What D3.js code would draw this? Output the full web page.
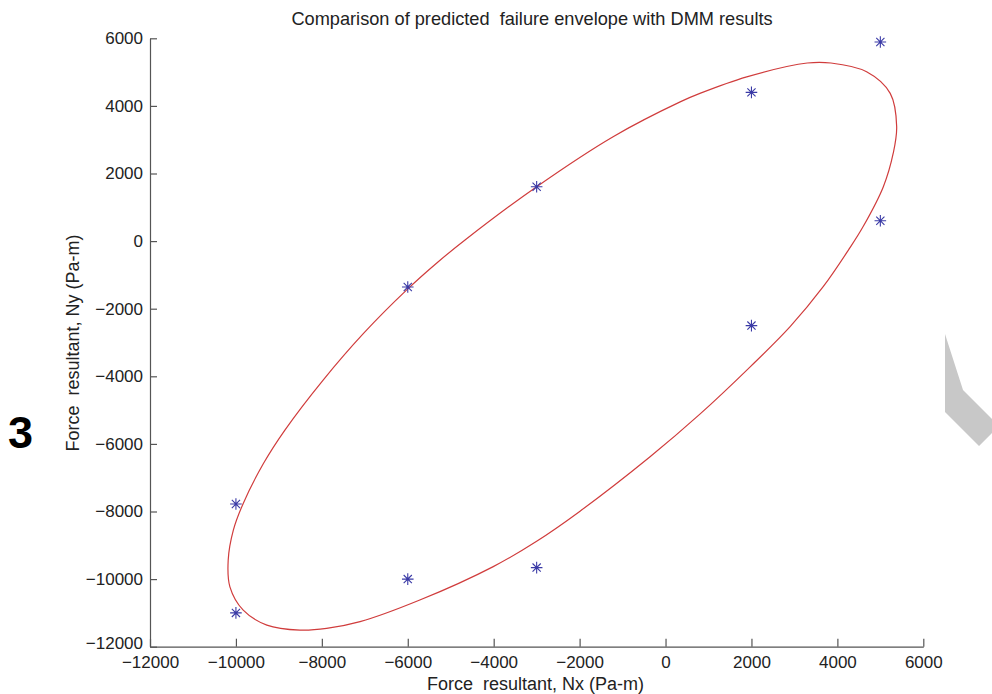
<!DOCTYPE html>
<html>
<head>
<meta charset="utf-8">
<script src="https://cdn.jsdelivr.net/npm/d3@7"></script>
<style>
  html, body { margin: 0; padding: 0; background: #fff; }
  svg { display: block; }
  text { font-family: "Liberation Sans", Arial, Helvetica, sans-serif; fill: #222; }
</style>
</head>
<body>
<svg id="chart" width="992" height="694"></svg>
<script>
// ---- data ----
const titleText = "Comparison of predicted\u00a0\u00a0failure envelope with DMM results";
const xLabelText = "Force\u00a0\u00a0resultant, Nx (Pa-m)";
const yLabelText = "Force\u00a0\u00a0resultant, Ny (Pa-m)";
const xTicks = [-12000, -10000, -8000, -6000, -4000, -2000, 0, 2000, 4000, 6000];
const yTicks = [-12000, -10000, -8000, -6000, -4000, -2000, 0, 2000, 4000, 6000];

// DMM results (asterisks)
const dmmNx = [-10000, -10000, -6000, -6000, -3000, -3000, 2000, 2000, 5000, 5000];
const dmmNy = [-7780, -11000, -1360, -10000, 1610, -9660, 4400, -2500, 5890, 600];

// predicted failure envelope (closed)
const envNx = [3300, 3850, 4680, 5230, 5380, 5300, 5070, 4600, 4260, 3670, 2900, 1970, 800, -360, -1990, -3000, -4010, -5720, -7110, -7890, -8510, -9280, -9830, -10140, -10180, -10060, -9830, -9360, -8860, -7970, -7030, -6030, -5290, -4630, -3000, -1220, 340, 800, 1890];
const envNy = [5270, 5270, 5010, 4370, 3390, 2600, 1610, 430, -260, -1350, -2530, -3720, -5120, -6380, -7990, -8880, -9630, -10620, -11260, -11460, -11510, -11360, -10920, -10230, -9440, -8550, -7760, -6580, -5590, -4110, -2730, -1450, -610, 70, 1610, 3090, 4120, 4370, 4860];

// ---- drawing ----
const svg = d3.select("#chart");
const x = d3.scaleLinear().domain([-12000, 6000]).range([150, 923.3]);
const y = d3.scaleLinear().domain([-12000, 6000]).range([646.7, 38.3]);
const fmt = d3.format("d");

// envelope
const env = envNx.map((v, i) => [v, envNy[i]]);
svg.append("path")
  .datum(env)
  .attr("fill", "none")
  .attr("stroke", "#d03c3c")
  .attr("stroke-width", 1.2)
  .attr("d", d3.line().x(d => x(d[0])).y(d => y(d[1])).curve(d3.curveCatmullRomClosed.alpha(0.5)));

// axes
const xAxis = svg.append("g")
  .attr("transform", `translate(0,${y(-12000)})`)
  .call(d3.axisBottom(x).tickValues(xTicks).tickFormat(fmt).tickSizeInner(-8).tickSizeOuter(0).tickPadding(9));
const yAxis = svg.append("g")
  .attr("transform", `translate(${x(-12000)},0)`)
  .call(d3.axisLeft(y).tickValues(yTicks).tickFormat(fmt).tickSizeInner(-7).tickSizeOuter(0).tickPadding(7));
[xAxis, yAxis].forEach(g => {
  g.select(".domain").attr("stroke", "#555").attr("stroke-width", 1.2);
  g.selectAll(".tick line").attr("stroke", "#555").attr("stroke-width", 1.2);
  g.selectAll(".tick text").attr("font-size", 17).attr("fill", "#222")
    .attr("font-family", "'Liberation Sans', Arial, sans-serif");
});
// lowest y label sits a little above its tick, as in the reference
yAxis.selectAll(".tick text").filter(d => d === -12000).attr("y", -4);

// asterisk markers
const r = 5.8;
const pts = dmmNx.map((v, i) => [v, dmmNy[i]]);
const star = svg.append("g").attr("stroke", "#3a3aa6").attr("stroke-width", 1.1);
pts.forEach(p => {
  const cx = x(p[0]), cy = y(p[1]);
  const d = r * Math.SQRT1_2;
  star.append("path").attr("d",
    `M${cx - r},${cy}L${cx + r},${cy}M${cx},${cy - r}L${cx},${cy + r}` +
    `M${cx - d},${cy - d}L${cx + d},${cy + d}M${cx - d},${cy + d}L${cx + d},${cy - d}`);
});

// title and labels
svg.append("text").attr("x", 532).attr("y", 25).attr("text-anchor", "middle")
  .attr("font-size", 18.2).text(titleText);
svg.append("text").attr("x", 535.5).attr("y", 690).attr("text-anchor", "middle")
  .attr("font-size", 18).text(xLabelText);
svg.append("text").attr("transform", "translate(79,343) rotate(-90)").attr("text-anchor", "middle")
  .attr("font-size", 18).text(yLabelText);

// figure number
svg.append("text").attr("x", 8).attr("y", 448).attr("font-size", 45).attr("font-weight", "bold")
  .style("fill", "#000").text("3");

// grey decoration at right edge
const deco = [[945, 334], [963, 390], [992, 419], [992, 433], [979, 446], [945, 412]];
svg.append("path").attr("fill", "#c8c8c8")
  .attr("d", "M" + deco.map(p => p.join(",")).join("L") + "Z");
</script>
</body>
</html>
